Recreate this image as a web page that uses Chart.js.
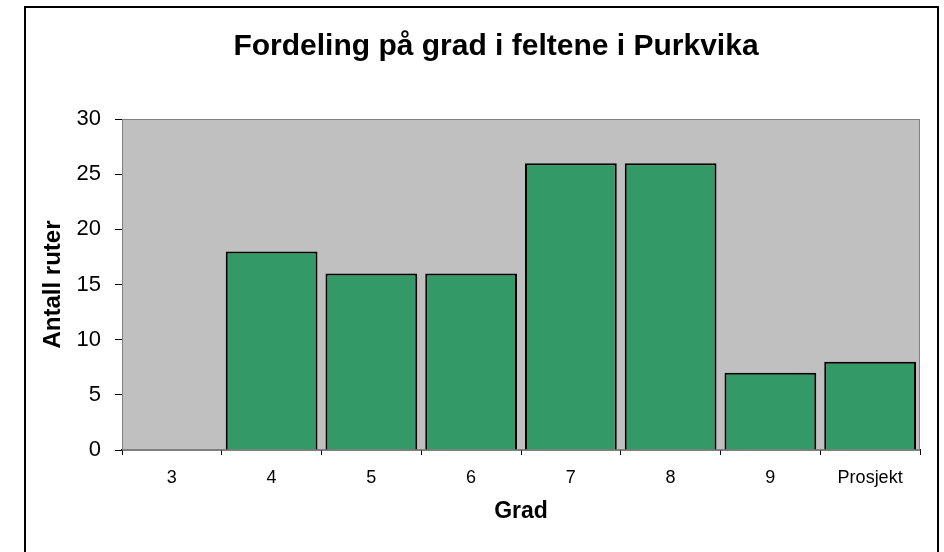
<!DOCTYPE html>
<html>
<head>
<meta charset="utf-8">
<script src="https://cdn.jsdelivr.net/npm/chart.js@4/dist/chart.umd.min.js"></script>
<style>
  html, body { margin: 0; padding: 0; background: #fff; }
  #wrap { width: 944px; height: 552px; position: relative; }
</style>
</head>
<body>
<div id="wrap"><canvas id="gradChart" width="944" height="552"></canvas></div>
<script>
const grader = ['3', '4', '5', '6', '7', '8', '9', 'Prosjekt'];
const antallRuter = [0, 18, 16, 16, 26, 26, 7, 8];
const yTicks = [0, 5, 10, 15, 20, 25, 30];

const FONT = 'Liberation Sans, Arial, sans-serif';

// grey plot area + outer frame
const plotBg = {
    id: 'plotBg',
    beforeDatasetsDraw(chart) {
        const { ctx, chartArea: a } = chart;
        ctx.save();
        ctx.fillStyle = '#c0c0c0';
        ctx.fillRect(a.left, a.top, a.right - a.left, a.bottom - a.top);
        ctx.strokeStyle = '#808080';
        ctx.lineWidth = 1;
        ctx.strokeRect(a.left + 0.5, a.top + 0.5, a.right - a.left - 1, a.bottom - a.top - 1);
        ctx.restore();
    },
    afterDraw(chart) {
        const ctx = chart.ctx;
        ctx.save();
        ctx.strokeStyle = '#000';
        ctx.lineWidth = 2;
        ctx.strokeRect(25, 7, 913, 600);
        ctx.restore();
    }
};

const ctx = document.getElementById('gradChart').getContext('2d');
const gradChart = new Chart(ctx, {
    type: 'bar',
    data: {
        labels: grader,
        datasets: [{
            label: 'Antall ruter',
            data: antallRuter,
            backgroundColor: '#339966',
            borderColor: '#000000',
            borderWidth: 2,
            barPercentage: 0.92,
            categoryPercentage: 1.0
        }]
    },
    options: {
        responsive: false,
        animation: false,
        layout: { padding: { left: 72, right: 24, top: 0, bottom: 0 } },
        plugins: {
            legend: { display: false },
            tooltip: { enabled: false },
            title: {
                display: true,
                text: 'Fordeling på grad i feltene i Purkvika',
                color: '#000',
                font: { family: FONT, size: 30, weight: 'bold' },
                padding: { top: 29, bottom: 54 }
            }
        },
        scales: {
            x: {
                grid: { drawOnChartArea: false, drawTicks: true, tickLength: 5, color: '#000', offset: true },
                border: { color: '#000', width: 1.5 },
                ticks: {
                    color: '#000',
                    padding: 12,
                    maxRotation: 0,
                    font: { family: FONT, size: 18 }
                },
                title: {
                    display: true,
                    text: 'Grad',
                    color: '#000',
                    font: { family: FONT, size: 23, weight: 'bold' },
                    padding: { top: 0, bottom: 27 }
                },
                afterFit: s => { s.height = 102; }
            },
            y: {
                min: 0,
                max: 30,
                afterBuildTicks: s => { s.ticks = yTicks.map(v => ({ value: v })); },
                grid: { drawOnChartArea: false, drawTicks: true, tickLength: 7, color: '#000' },
                border: { color: '#404040', width: 1 },
                ticks: {
                    color: '#000',
                    padding: 14,
                    font: { family: FONT, size: 22 }
                },
                title: {
                    display: true,
                    text: 'Antall ruter',
                    color: '#000',
                    font: { family: FONT, size: 24, weight: 'bold' },
                    padding: { top: -33, bottom: 0 }
                },
                afterFit: s => { s.width = 50; }
            }
        }
    },
    plugins: [plotBg]
});
</script>
</body>
</html>
